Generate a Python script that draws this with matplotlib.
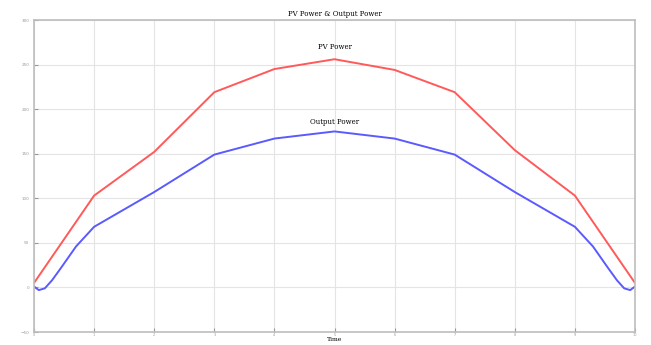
import matplotlib.pyplot as plt
import numpy as np

# values
pv_time = [0, 1, 2, 3, 4, 5, 6, 7, 8, 9, 10]
pv_power = [5, 103, 152, 219, 245, 256, 244, 219, 154, 103, 5]

out_time = [0, 0.08, 0.18, 0.3, 0.45, 0.7, 1, 2, 3, 4, 5,
            6, 7, 8, 9, 9.3, 9.55, 9.7, 9.82, 9.92, 10]
out_power = [1, -3, -1, 8, 22, 46, 68, 107, 149, 167, 175,
             167, 149, 107, 68, 46, 22, 8, -1, -3, 1]

y_ticks = [-50, 0, 50, 100, 150, 200, 250, 300]
x_ticks = [0, 1, 2, 3, 4, 5, 6, 7, 8, 9, 10]

fig = plt.figure(figsize=(6.51, 3.45), dpi=100)
ax = fig.add_axes([34 / 651, 13 / 345, 601 / 651, 312 / 345])

ax.plot(pv_time, pv_power, color='#ff5a5a', linewidth=1.4)
ax.plot(out_time, out_power, color='#5a5aff', linewidth=1.4)

ax.set_xlim(0, 10)
ax.set_ylim(-50, 300)
ax.set_xticks(x_ticks)
ax.set_yticks(y_ticks)
ax.grid(color='#e4e4e4', linestyle='-', linewidth=0.8)
ax.tick_params(labelsize=3, colors='#999999', length=3, width=0.8, direction='in')
ax.tick_params(axis='x', labelsize=2.5, pad=0.5)
for s in ax.spines.values():
    s.set_color('#bdbdbd')
    s.set_linewidth(1.2)

ax.set_title('PV Power & Output Power', fontsize=5, family='DejaVu Serif', pad=3)
ax.set_xlabel('Time', fontsize=4.5, family='DejaVu Serif', labelpad=0)
ax.text(5, 270, 'PV Power', fontsize=5, family='DejaVu Serif', ha='center', va='center')
ax.text(5, 186, 'Output Power', fontsize=5, family='DejaVu Serif', ha='center', va='center')

fig.savefig('out.png', dpi=100)
